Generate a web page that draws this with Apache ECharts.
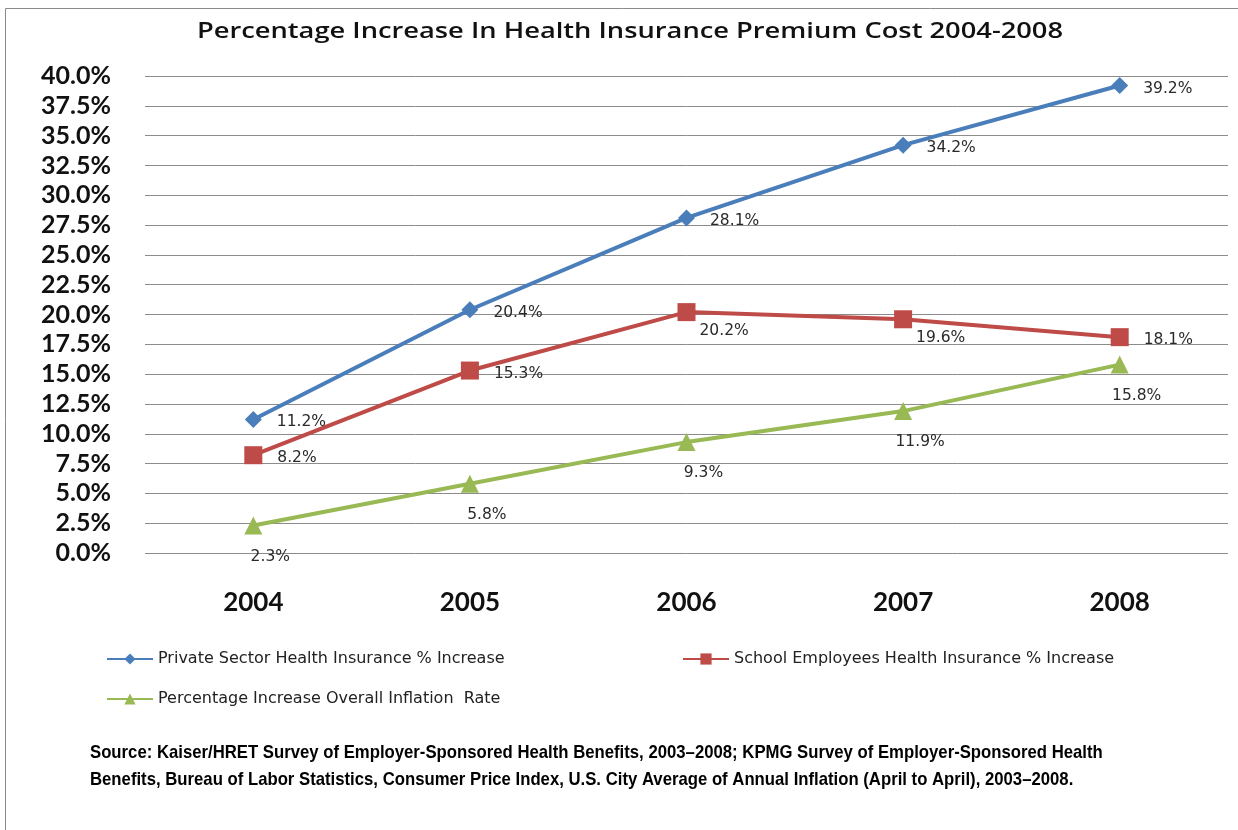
<!DOCTYPE html>
<html>
<head>
<meta charset="utf-8">
<script src="https://cdn.jsdelivr.net/npm/echarts@6/dist/echarts.min.js"></script>
<style>
  html, body { margin: 0; padding: 0; background: #fff; }
  #chart { width: 1238px; height: 830px; }
</style>
</head>
<body>
<div id="chart"></div>
<script>
// Years on the category axis
const years = ['2004', '2005', '2006', '2007', '2008'];

// Percentage increases for each series
const privateSector = [11.2, 20.4, 28.1, 34.2, 39.2];
const schoolEmployees = [8.2, 15.3, 20.2, 19.6, 18.1];
const inflation = [2.3, 5.8, 9.3, 11.9, 15.8];

// Series names as shown in the legend
const seriesNames = [
  'Private Sector Health Insurance % Increase',
  'School Employees Health Insurance % Increase',
  'Percentage Increase Overall Inflation  Rate'
];

const chartTitle = 'Percentage Increase In Health Insurance Premium Cost 2004-2008';

const sourceLines = [
  'Source: Kaiser/HRET Survey of Employer-Sponsored Health Benefits, 2003\u20132008; KPMG Survey of Employer-Sponsored Health',
  'Benefits, Bureau of Labor Statistics, Consumer Price Index, U.S. City Average of Annual Inflation (April to April), 2003\u20132008.'
];

const chart = echarts.init(document.getElementById('chart'));

const labelFont = { fontFamily: 'DejaVu Sans', fontSize: 15.5, color: '#2a2a2a' };
const legendText = { fontFamily: 'DejaVu Sans', fontSize: 16, color: '#222' };

// per-point label placement built alongside the values
function labelled(values, labelOpts) {
  return values.map((v, i) => ({ value: v, label: labelOpts(i) }));
}
const pct = p => p.value.toFixed(1) + '%';

const option = {
  backgroundColor: '#fff',
  animation: false,
  grid: { left: 145, right: 10, top: 76, height: 477 },
  legend: [
    { data: [seriesNames[0]], left: 101, top: 646, itemWidth: 46, itemHeight: 14, itemGap: 6, textStyle: legendText },
    { data: [seriesNames[1]], left: 677, top: 646, itemWidth: 46, itemHeight: 14, itemGap: 6, textStyle: legendText },
    { data: [seriesNames[2]], left: 101, top: 686, itemWidth: 46, itemHeight: 14, itemGap: 6, textStyle: legendText }
  ],
  xAxis: {
    type: 'category',
    data: years,
    boundaryGap: true,
    axisLine: { show: false },
    axisTick: { show: false },
    axisLabel: { margin: 37, fontFamily: 'Lato', fontWeight: 'bold', fontSize: 26, color: '#111' }
  },
  yAxis: {
    type: 'value',
    min: 0,
    max: 40,
    interval: 2.5,
    axisLine: { show: false },
    axisTick: { show: false },
    splitLine: { lineStyle: { color: '#8c8c8c', width: 1 } },
    axisLabel: {
      margin: 34,
      fontFamily: 'Lato', fontWeight: 'bold', fontSize: 25, color: '#111',
      formatter: v => v.toFixed(1) + '%'
    }
  },
  series: [
    {
      name: seriesNames[0],
      type: 'line',
      data: labelled(privateSector, () => ({ show: true, position: 'right', distance: 15, offset: [0, 3] })),
      color: '#4a7ebb',
      lineStyle: { width: 4 },
      symbol: 'diamond',
      symbolSize: 17,
      label: Object.assign({ formatter: pct }, labelFont),
      z: 3
    },
    {
      name: seriesNames[1],
      type: 'line',
      data: labelled(schoolEmployees, i => (i === 2 || i === 3)
        ? { show: true, position: 'right', distance: 4, offset: [0, 19] }
        : { show: true, position: 'right', distance: 15, offset: [0, 3] }),
      color: '#be4b48',
      lineStyle: { width: 4 },
      symbol: 'rect',
      symbolSize: 18,
      label: Object.assign({ formatter: pct }, labelFont),
      z: 2
    },
    {
      name: seriesNames[2],
      type: 'line',
      data: labelled(inflation, () => ({ show: true, position: 'bottom', distance: 14, offset: [17, 0] })),
      color: '#98b954',
      lineStyle: { width: 4 },
      symbol: 'triangle',
      symbolSize: 18,
      label: Object.assign({ formatter: pct }, labelFont),
      z: 1
    }
  ],
  graphic: [
    {
      type: 'rect',
      shape: { x: 5.5, y: 8.5, width: 1260, height: 840 },
      style: { fill: 'none', stroke: '#8a8a8a', lineWidth: 1 },
      silent: true, z: -1
    },
    {
      type: 'text', x: 630, y: 32, scaleX: 1.24,
      style: {
        text: chartTitle, font: '600 22px "Open Sans"', fill: '#111',
        textAlign: 'center', textVerticalAlign: 'middle'
      }
    },
    {
      type: 'text', x: 90, y: 753, scaleX: 0.88,
      style: { text: sourceLines[0], font: 'bold 19px "Liberation Sans"', fill: '#000', textVerticalAlign: 'middle' }
    },
    {
      type: 'text', x: 90, y: 780, scaleX: 0.88,
      style: { text: sourceLines[1], font: 'bold 19px "Liberation Sans"', fill: '#000', textVerticalAlign: 'middle' }
    }
  ]
};

chart.setOption(option);
</script>
</body>
</html>
